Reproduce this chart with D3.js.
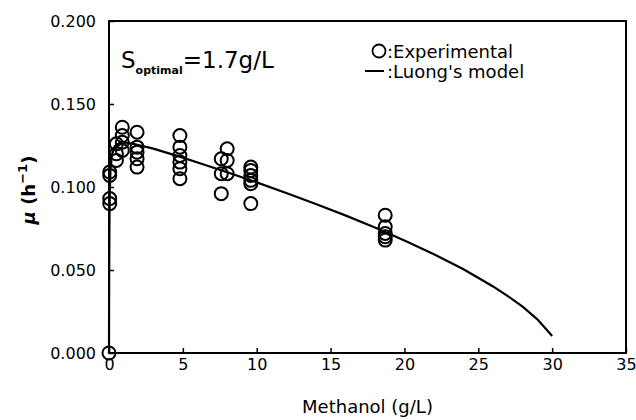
<!DOCTYPE html>
<html>
<head>
<meta charset="utf-8">
<script src="https://cdn.jsdelivr.net/npm/d3@7"></script>
<style>
  body { margin: 0; background: #fff; }
  text { font-family: "DejaVu Sans", sans-serif; fill: #000; }
</style>
</head>
<body>
<div id="chart"></div>
<script>
// experimental points (methanol g/L, specific growth rate 1/h)
const expS = [0,
  0.05, 0.05, 0.05, 0.05,
  0.5, 0.5, 0.5,
  0.9, 0.9, 0.9, 0.9,
  1.9, 1.9, 1.9, 1.9, 1.9,
  4.8, 4.8, 4.8, 4.8, 4.8, 4.8,
  7.6, 7.6, 7.6,
  8.0, 8.0, 8.0,
  9.6, 9.6, 9.6, 9.6, 9.6, 9.6,
  18.7, 18.7, 18.7, 18.7, 18.7]
const expMu = [0,
  0.109, 0.107, 0.093, 0.090,
  0.126, 0.120, 0.116,
  0.136, 0.131, 0.127, 0.122,
  0.133, 0.124, 0.121, 0.117, 0.112,
  0.131, 0.124, 0.119, 0.115, 0.111, 0.105,
  0.117, 0.108, 0.096,
  0.123, 0.116, 0.108,
  0.112, 0.110, 0.107, 0.104, 0.102, 0.090,
  0.083, 0.076, 0.072, 0.070, 0.068]

// Luong's model curve
const modelS  = [0, 0.01, 0.03, 0.06, 0.1, 0.2, 0.4, 0.7, 1, 1.5, 2, 3, 4, 5, 6, 8, 10, 12, 14, 16, 18, 20, 22, 24, 26, 27, 28, 29, 30]
const modelMu = [0, 0.044, 0.079, 0.099, 0.110, 0.1195, 0.1247, 0.1265, 0.1268, 0.1263, 0.1253, 0.1231, 0.1204, 0.1177, 0.1148, 0.1089, 0.1028, 0.0964, 0.0898, 0.0829, 0.0756, 0.0678, 0.0595, 0.0504, 0.0401, 0.0343, 0.0279, 0.0203, 0.0103]

const xTicks = [0, 5, 10, 15, 20, 25, 30, 35]
const yTicks = [0, 0.05, 0.1, 0.15, 0.2]

const width = 636, height = 420
const margin = { top: 21, right: 10, bottom: 67, left: 109 }

const x = d3.scaleLinear().domain([0, 35]).range([margin.left, width - margin.right])
const y = d3.scaleLinear().domain([0, 0.2]).range([height - margin.bottom, margin.top])

const svg = d3.select("#chart").append("svg")
    .attr("width", width)
    .attr("height", height)

// axes with inward ticks
svg.append("g")
    .attr("transform", `translate(0,${height - margin.bottom})`)
    .call(d3.axisBottom(x).tickValues(xTicks).tickSize(-5).tickPadding(6).tickFormat(d3.format("d")))
    .call(g => g.select(".domain").remove())
    .call(g => g.selectAll(".tick line").attr("stroke-width", 1.5))
    .call(g => g.selectAll("text").attr("font-size", 16))

svg.append("g")
    .attr("transform", `translate(${margin.left},0)`)
    .call(d3.axisLeft(y).tickValues(yTicks).tickSize(-5).tickPadding(13).tickFormat(d3.format(".3f")))
    .call(g => g.select(".domain").remove())
    .call(g => g.selectAll(".tick line").attr("stroke-width", 1.5))
    .call(g => g.selectAll("text").attr("font-size", 16))

// frame
svg.append("rect")
    .attr("x", x(0)).attr("y", y(0.2))
    .attr("width", x(35) - x(0)).attr("height", y(0) - y(0.2))
    .attr("fill", "none").attr("stroke", "#000").attr("stroke-width", 2)

// model line
const line = d3.line().x((d, i) => x(modelS[i])).y(d => y(d))
svg.append("path")
    .datum(modelMu)
    .attr("d", line)
    .attr("fill", "none")
    .attr("stroke", "#000")
    .attr("stroke-width", 2.2)

// experimental points
svg.append("g")
    .selectAll("circle")
    .data(expMu)
    .join("circle")
    .attr("cx", (d, i) => x(expS[i]))
    .attr("cy", d => y(d))
    .attr("r", 6.5)
    .attr("fill", "none")
    .attr("stroke", "#000")
    .attr("stroke-width", 2)

// axis titles
svg.append("text")
    .attr("x", (x(0) + x(35)) / 2)
    .attr("y", 413)
    .attr("text-anchor", "middle")
    .attr("font-size", 18)
    .text("Methanol (g/L)")

const yt = svg.append("text")
    .attr("transform", `translate(35,${(y(0) + y(0.2)) / 2 + 3}) rotate(-90)`)
    .attr("text-anchor", "middle")
    .attr("font-size", 18)
    .attr("font-weight", "bold")
yt.append("tspan").attr("font-style", "italic").text("\u03bc")
yt.append("tspan").text(" (h")
yt.append("tspan").attr("dy", -8).attr("font-size", 13).text("\u22121")
yt.append("tspan").attr("dy", 8).text(")")

// S optimal annotation
const ann = svg.append("text").attr("x", 121).attr("y", 68).attr("font-size", 23)
ann.append("tspan").text("S")
ann.append("tspan").attr("dy", 6).attr("font-size", 11).attr("font-weight", "bold").text("optimal")
ann.append("tspan").attr("dy", -6).text("=1.7g/L")

// legend
svg.append("circle")
    .attr("cx", 379).attr("cy", 51).attr("r", 6.5)
    .attr("fill", "none").attr("stroke", "#000").attr("stroke-width", 1.8)
svg.append("text").attr("x", 387).attr("y", 58).attr("font-size", 18).text(":Experimental")
svg.append("line")
    .attr("x1", 365).attr("x2", 384).attr("y1", 71).attr("y2", 71)
    .attr("stroke", "#000").attr("stroke-width", 2)
svg.append("text").attr("x", 387).attr("y", 78).attr("font-size", 18).text(":Luong's model")
</script>
</body>
</html>
